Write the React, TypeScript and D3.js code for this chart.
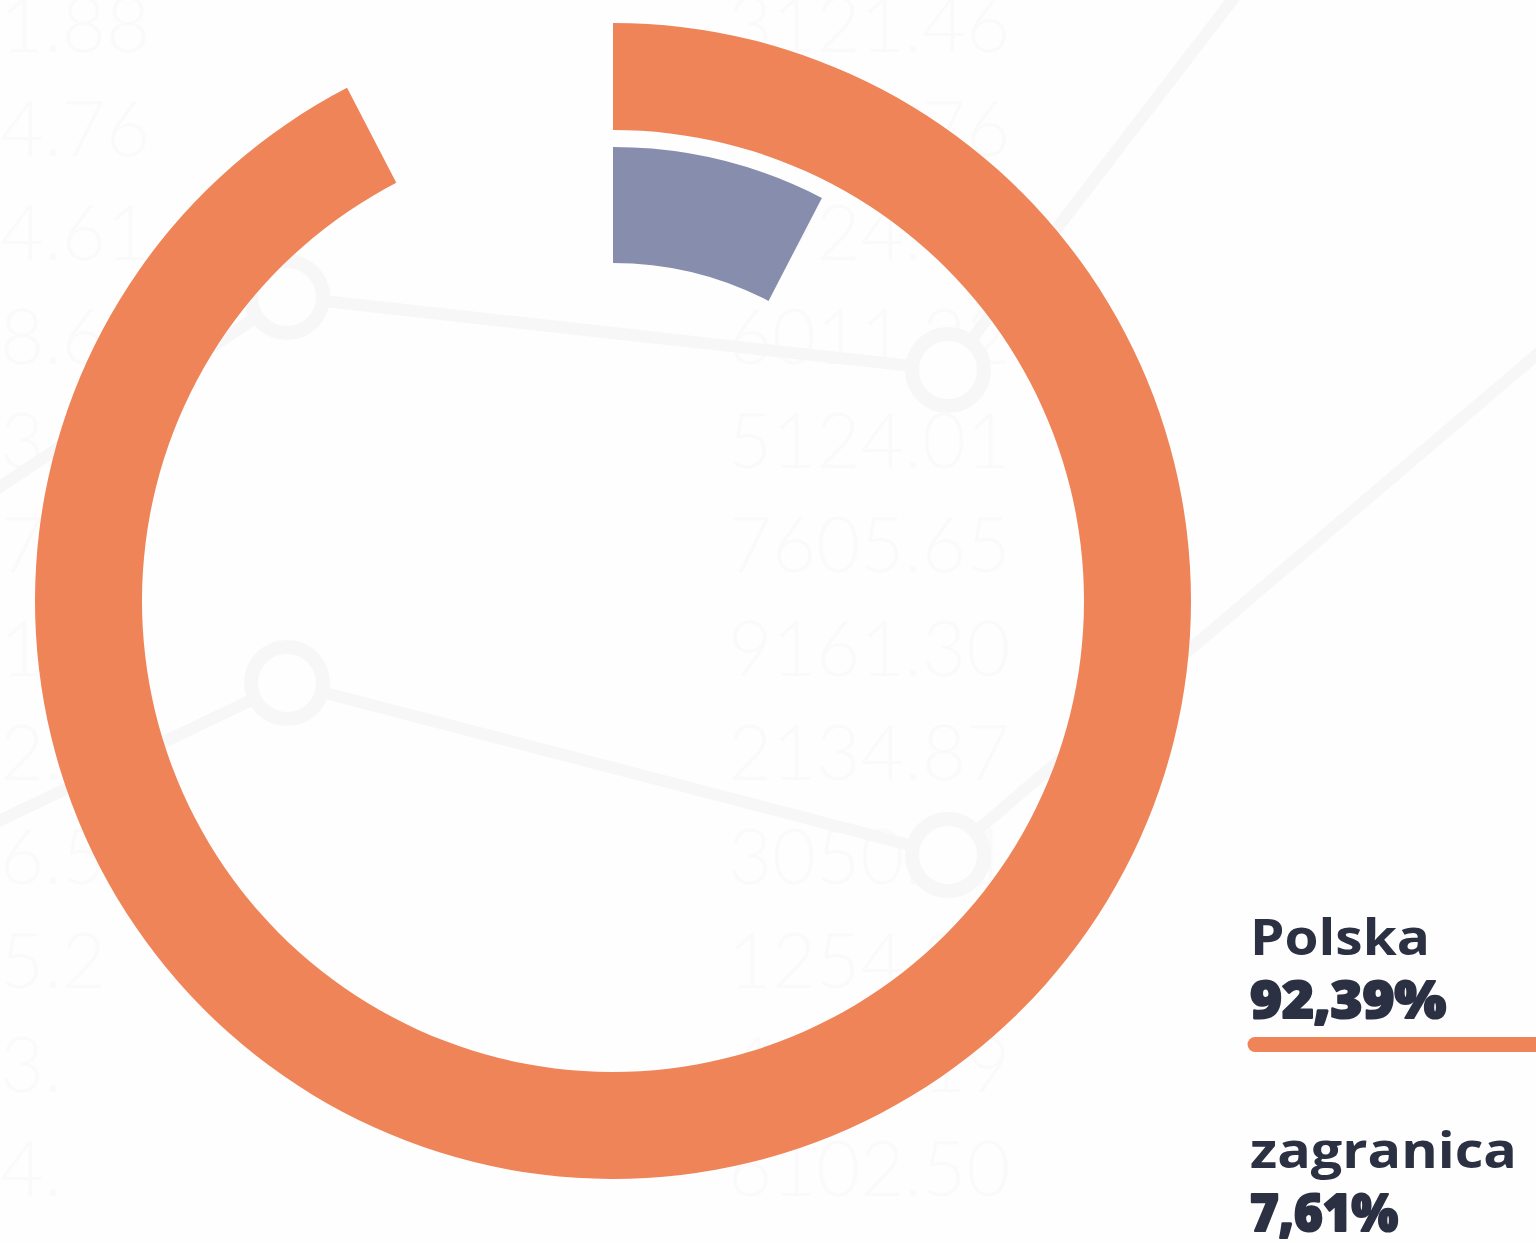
import React, { useEffect } from "react";
import * as d3 from "d3";

// ---- data ----
const categories = ["Polska", "zagranica"];
const values = [92.39, 7.61];
const valueLabels = ["92,39%", "7,61%"];
const colors = ["#EF8458", "#878DAC"];

// ---- faint background watermark (decoration only) ----
const bgLeftNumbers = ["1.88", "4.76", "4.61", "8.6", "3.2", "7.1", "1.4", "2.9", "6.5", "5.2", "3.", "4."];
const bgMidNumbers = ["3121.46", "4217.76", "2924.06", "6011.22", "5124.01", "7605.65", "9161.30", "2134.87", "3050.61", "1254.33", "4820.19", "6102.50"];

const W = 1536;
const H = 1243;

export default function App() {
  useEffect(() => {
    document.body.style.margin = "0";
  }, []);

  const cx = 613;
  const cy = 601;
  const rings = [
    { inner: 471, outer: 578 },
    { inner: 338, outer: 454 },
  ];
  const angle = d3.scaleLinear().domain([0, 100]).range([0, 2 * Math.PI]);
  const arcs = values.map((v, i) =>
    d3.arc()({
      innerRadius: rings[i].inner,
      outerRadius: rings[i].outer,
      startAngle: 0,
      endAngle: angle(v),
    } as any) as string
  );

  const rowY = d3.scaleLinear().domain([0, 1]).range([52, 156]);
  const bgLine = d3.line();
  const line1: [number, number][] = [[-20, 500], [287, 297], [948, 370], [1240, -10]];
  const line2: [number, number][] = [[-20, 830], [287, 683], [948, 855], [1560, 335]];
  const circles: [number, number][] = [[287, 297], [948, 370], [287, 683], [948, 855]];

  const legendX = 1248;
  const legendTop = [955, 1168];

  return (
    <svg
      width={W}
      height={H}
      style={{ display: "block", position: "absolute", left: 0, top: 0, background: "#fefefe" }}
    >
      <rect width={W} height={H} fill="#fefefe" />
      {/* watermark */}
      <g fontFamily="Lato, 'Open Sans', sans-serif" fontWeight={300} fontSize={76} fill="#fafafa">
        {bgLeftNumbers.map((t, i) => (
          <text key={"l" + i} x={0} y={rowY(i)}>{t}</text>
        ))}
        {bgMidNumbers.map((t, i) => (
          <text key={"m" + i} x={728} y={rowY(i)}>{t}</text>
        ))}
      </g>
      <g stroke="#f7f7f7" strokeWidth={12} fill="none">
        <path d={bgLine(line1) as string} />
        <path d={bgLine(line2) as string} />
        {circles.map((c, i) => (
          <circle key={i} cx={c[0]} cy={c[1]} r={36} fill="#fefefe" strokeWidth={14} />
        ))}
      </g>

      {/* rings */}
      <g transform={`translate(${cx},${cy})`}>
        {arcs.map((d, i) => (
          <path key={categories[i]} d={d} fill={colors[i]} />
        ))}
      </g>

      {/* legend */}
      <g fill="#2B3042" fontFamily="'Open Sans', 'Noto Sans', sans-serif">
        {categories.map((c, i) => (
          <g key={c}>
            <text
              x={legendX + 2}
              y={legendTop[i]}
              fontSize={50}
              fontWeight={700}
              textLength={i === 0 ? 180 : 267}
              lengthAdjust="spacingAndGlyphs"
            >
              {c}
            </text>
            <text
              x={legendX + 2}
              y={legendTop[i] + 63}
              fontSize={51}
              fontWeight={800}
              stroke="#2B3042"
              strokeWidth={2.2}
              strokeLinejoin="round"
              textLength={i === 0 ? 196 : 148}
              lengthAdjust="spacingAndGlyphs"
            >
              {valueLabels[i]}
            </text>
          </g>
        ))}
        <line
          x1={legendX + 7}
          x2={W + 10}
          y1={1044.5}
          y2={1044.5}
          stroke={colors[0]}
          strokeWidth={15}
          strokeLinecap="round"
        />
      </g>
    </svg>
  );
}
